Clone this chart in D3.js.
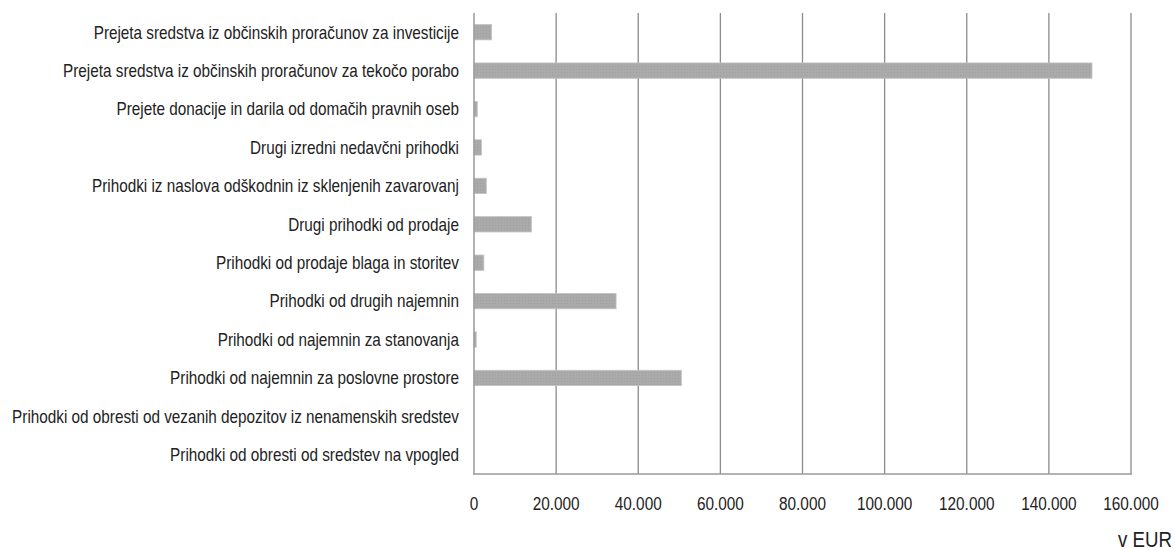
<!DOCTYPE html>
<html>
<head>
<meta charset="utf-8">
<script src="https://cdn.jsdelivr.net/npm/d3@7"></script>
<style>
  html, body { margin: 0; padding: 0; background: #fff; }
  svg text { font-family: "Liberation Sans Narrow", "Arial Narrow", "Liberation Sans", sans-serif; fill: #222; }
</style>
</head>
<body>
<div id="chart"></div>
<script>
// Prihodki po vrstah (v EUR) - horizontal bars, top to bottom
const CATEGORIES = [
  "Prejeta sredstva iz občinskih proračunov za investicije",
  "Prejeta sredstva iz občinskih proračunov za tekočo porabo",
  "Prejete donacije in darila od domačih pravnih oseb",
  "Drugi izredni nedavčni prihodki",
  "Prihodki iz naslova odškodnin iz sklenjenih zavarovanj",
  "Drugi prihodki od prodaje",
  "Prihodki od prodaje blaga in storitev",
  "Prihodki od drugih najemnin",
  "Prihodki od najemnin za stanovanja",
  "Prihodki od najemnin za poslovne prostore",
  "Prihodki od obresti od vezanih depozitov iz nenamenskih sredstev",
  "Prihodki od obresti od sredstev na vpogled"
];
const VALUES = [4300, 150500, 800, 1800, 3000, 14000, 2400, 34600, 550, 50500, 0, 0];
const TICKS = [0, 20000, 40000, 60000, 80000, 100000, 120000, 140000, 160000];
const UNIT = "v EUR";

const width = 1175, height = 550;
const margin = { top: 13, right: 44, bottom: 76, left: 474 };
const SQUEEZE = 0.85; // narrow face substitute

const svg = d3.select("#chart").append("svg")
  .attr("width", width).attr("height", height);

const defs = svg.append("defs");
const pat = defs.append("pattern").attr("id", "dots")
  .attr("width", 3).attr("height", 3).attr("patternUnits", "userSpaceOnUse");
pat.append("rect").attr("width", 3).attr("height", 3).attr("fill", "#aaaaaa");
pat.append("rect").attr("width", 1).attr("height", 1).attr("fill", "#9f9f9f");

const x = d3.scaleLinear().domain([0, 160000]).range([margin.left, width - margin.right]);
const y = d3.scaleBand().domain(CATEGORIES).range([margin.top, height - margin.bottom]).paddingInner(0.6).paddingOuter(0.3);

// gridlines
svg.append("g").selectAll("line").data(TICKS.slice(1)).join("line")
  .attr("x1", d => x(d)).attr("x2", d => x(d))
  .attr("y1", margin.top).attr("y2", height - margin.bottom)
  .attr("stroke", "#8c8c8c").attr("stroke-width", 1.3);

// bars
svg.append("g").selectAll("rect").data(VALUES).join("rect")
  .attr("x", x(0)).attr("y", (d, i) => y(CATEGORIES[i]))
  .attr("width", d => Math.max(0, x(d) - x(0))).attr("height", y.bandwidth())
  .attr("fill", "url(#dots)").attr("stroke", d => d > 0 ? "#c4c4c4" : "none").attr("stroke-width", 0.8);

// axis lines
svg.append("line").attr("x1", x(0)).attr("x2", x(0))
  .attr("y1", margin.top).attr("y2", height - margin.bottom)
  .attr("stroke", "#9a9a9a").attr("stroke-width", 1.5);
svg.append("line").attr("x1", x(0) - 1).attr("x2", x(160000) + 1)
  .attr("y1", height - margin.bottom).attr("y2", height - margin.bottom)
  .attr("stroke", "#9a9a9a").attr("stroke-width", 1.5);

// category labels
svg.append("g").selectAll("text").data(CATEGORIES).join("text")
  .attr("transform", d => `translate(${margin.left - 15},${y(d) + y.bandwidth() / 2}) scale(${SQUEEZE},1)`)
  .attr("dy", "0.35em").attr("text-anchor", "end").attr("font-size", 18)
  .text(d => d);

// tick labels
const fmt = d3.formatLocale({ decimal: ",", thousands: ".", grouping: [3], currency: ["", " €"] }).format(",");
svg.append("g").selectAll("text").data(TICKS).join("text")
  .attr("transform", d => `translate(${x(d)},510) scale(0.83,1)`)
  .attr("text-anchor", "middle").attr("font-size", 18.5)
  .text(d => fmt(d));

svg.append("text").attr("transform", `translate(1172,547) scale(0.83,1)`)
  .attr("text-anchor", "end").attr("font-size", 22.5).text(UNIT);
</script>
</body>
</html>
